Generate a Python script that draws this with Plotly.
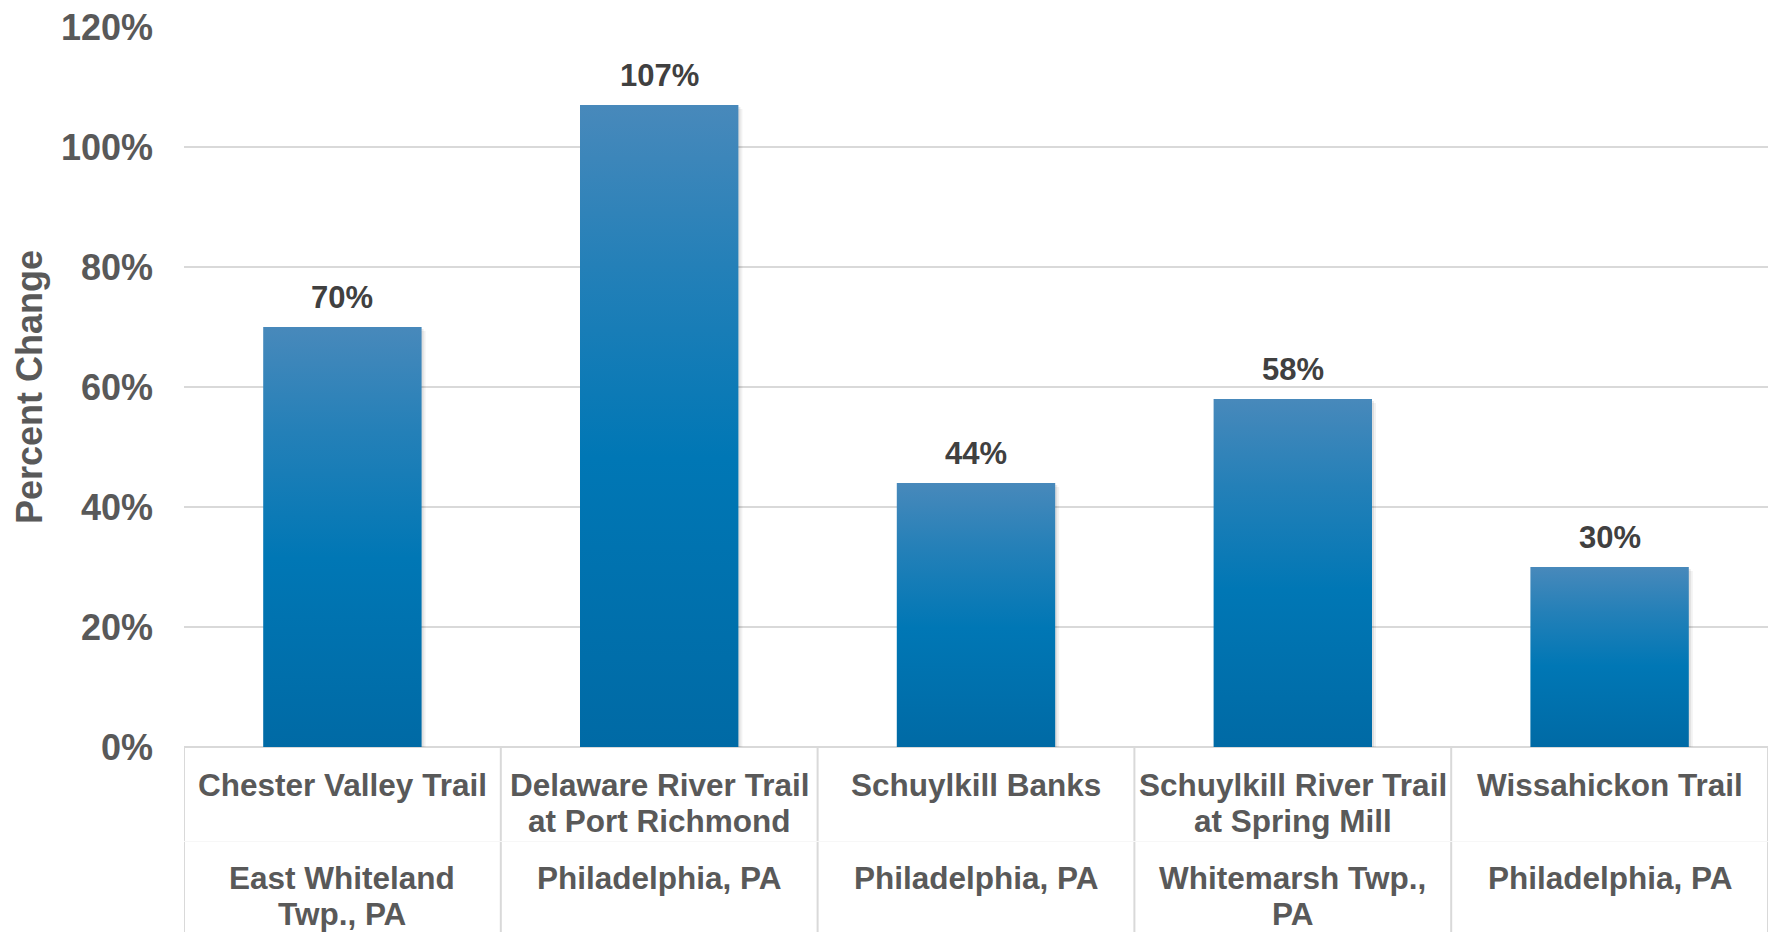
import plotly.graph_objects as go

# Trail counts: percent change per trail
trail_names = [
    "Chester Valley Trail",
    "Delaware River Trail<br>at Port Richmond",
    "Schuylkill Banks",
    "Schuylkill River Trail<br>at Spring Mill",
    "Wissahickon Trail",
]
locations = [
    "East Whiteland<br>Twp., PA",
    "Philadelphia, PA",
    "Philadelphia, PA",
    "Whitemarsh Twp.,<br>PA",
    "Philadelphia, PA",
]
pct_change = [70, 107, 44, 58, 30]
y_ticks = [0, 20, 40, 60, 80, 100, 120]

FONT = "Liberation Sans, Arial, Helvetica, sans-serif"
GREY_TEXT = "#595959"
LABEL_TEXT = "#404040"
GRID = "#D9D9D9"

W, H = 1775, 932
M_L, M_R, M_T, M_B = 184, 7, 23, 185
PLOT_W = W - M_L - M_R
PLOT_H = H - M_T - M_B
Y_MAX = 120
BAR_HALF = 0.25  # bar covers half of each category slot

BAR_SCALE = [
    [0.0, "#006AA5"],
    [0.45, "#0077B5"],
    [0.75, "#2480B8"],
    [1.0, "#4889BB"],
]


def px_to_paper(py):
    """Convert a vertical pixel position on the page to paper units."""
    return (H - M_B - py) / PLOT_H


n = len(trail_names)
X_PER_PX = n / PLOT_W
Y_PER_PX = Y_MAX / PLOT_H

fig = go.Figure()

# Soft drop shadow behind each bar (offset right and down by a few pixels)
for off, alpha in ((4, 0.05), (2, 0.08)):
    dx, dy = off * X_PER_PX, off * Y_PER_PX
    for i, val in enumerate(pct_change):
        fig.add_trace(
            go.Scatter(
                x=[i - BAR_HALF + dx, i + BAR_HALF + dx, i + BAR_HALF + dx,
                   i - BAR_HALF + dx, i - BAR_HALF + dx],
                y=[-dy, -dy, val - dy, val - dy, -dy],
                mode="lines",
                fill="toself",
                fillcolor=f"rgba(0,0,0,{alpha})",
                line=dict(width=0),
                hoverinfo="skip",
                showlegend=False,
            )
        )

# Bars drawn as filled rectangles so they can carry a vertical gradient
for i, val in enumerate(pct_change):
    fig.add_trace(
        go.Scatter(
            x=[i - BAR_HALF, i + BAR_HALF, i + BAR_HALF, i - BAR_HALF, i - BAR_HALF],
            y=[0, 0, val, val, 0],
            mode="lines",
            fill="toself",
            fillgradient=dict(type="vertical", colorscale=BAR_SCALE),
            line=dict(width=0),
            hoverinfo="skip",
            showlegend=False,
        )
    )

# Value labels above each bar
for i, val in enumerate(pct_change):
    fig.add_annotation(
        x=i,
        y=val,
        xref="x",
        yref="y",
        text=f"{val}%",
        showarrow=False,
        yanchor="bottom",
        yshift=10,
        font=dict(family=FONT, size=31, color=LABEL_TEXT, weight="bold"),
    )

# Category table below the axis: trail name block, then location block
LINE_STEP = 36
NAME_TOP = 785.5
LOC_TOP = 879
for i, (name, loc) in enumerate(zip(trail_names, locations)):
    for block, top in ((name, NAME_TOP), (loc, LOC_TOP)):
        for k, line in enumerate(block.split("<br>")):
            fig.add_annotation(
                x=i,
                y=px_to_paper(top + k * LINE_STEP),
                xref="x",
                yref="paper",
                text=line,
                showarrow=False,
                yanchor="middle",
                xanchor="center",
                font=dict(family=FONT, size=31.5, color=GREY_TEXT, weight="bold"),
            )

# Cell borders of the category table
for b in range(n + 1):
    fig.add_shape(
        type="line",
        xref="x",
        yref="paper",
        x0=b - 0.5,
        x1=b - 0.5,
        y0=0,
        y1=px_to_paper(H + 5),
        line=dict(color=GRID, width=2),
        layer="below",
    )
fig.add_shape(
    type="line",
    xref="x",
    yref="paper",
    x0=-0.5,
    x1=n - 0.5,
    y0=px_to_paper(842),
    y1=px_to_paper(842),
    line=dict(color="#F7F7F7", width=1),
    layer="below",
)

fig.update_layout(
    width=W,
    height=H,
    margin=dict(l=M_L, r=M_R, t=M_T, b=M_B, pad=0),
    paper_bgcolor="white",
    plot_bgcolor="white",
    showlegend=False,
    xaxis=dict(
        range=[-0.5, n - 0.5],
        showticklabels=False,
        showgrid=False,
        zeroline=False,
        showline=False,
        fixedrange=True,
    ),
    yaxis=dict(
        range=[0, Y_MAX],
        tickvals=y_ticks,
        ticktext=[f"{t}%" for t in y_ticks],
        showgrid=True,
        gridcolor=GRID,
        gridwidth=2,
        zeroline=True,
        zerolinecolor=GRID,
        zerolinewidth=2,
        showline=False,
        ticks="",
        ticklabelstandoff=30,
        tickfont=dict(family=FONT, size=36, color=GREY_TEXT, weight="bold"),
        title=dict(
            text="Percent Change",
            font=dict(family=FONT, size=36, color=GREY_TEXT, weight="bold"),
            standoff=7,
        ),
        fixedrange=True,
    ),
)

fig.write_html("out.html")
